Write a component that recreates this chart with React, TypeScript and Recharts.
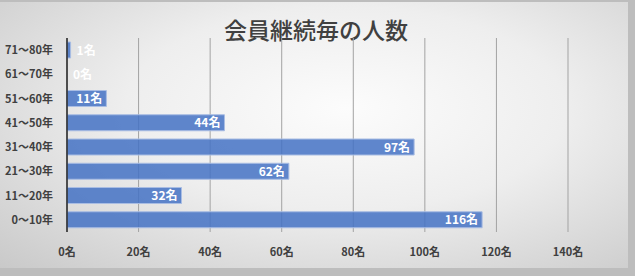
import { Bar, BarChart, CartesianGrid, LabelList, XAxis, YAxis } from "recharts";

const categories = ["71～80年", "61～70年", "51～60年", "41～50年", "31～40年", "21～30年", "11～20年", "0～10年"];
const members = [1, 0, 11, 44, 97, 62, 32, 116];
const xTicks = [0, 20, 40, 60, 80, 100, 120, 140];

// "rest" is an invisible stacked segment used to anchor the labels (also for 0)
const data = categories.map((name, i) => ({ name, value: members[i], rest: 140 - members[i] }));

const font = "'Noto Sans CJK JP', 'Noto Sans', sans-serif";

function BarLabel(props: any) {
  const { x, y, height, index } = props;
  const v = members[index];
  const text = `${v}名`;
  const textW = String(v).length * 7.5 + 13;
  const barW = v * ((568 - 67) / 140);
  const fits = barW > textW + 6;
  return (
    <text
      x={fits ? x - 4 : x + 6}
      y={y + height / 2}
      dy={4.5}
      textAnchor={fits ? "end" : "start"}
      fill="#ffffff"
      fontSize={12}
      fontWeight={700}
      fontFamily={font}
    >
      {text}
    </text>
  );
}

export default function App() {
  return (
    <div style={{ position: "absolute", left: 0, top: 0, width: 635, height: 276, background: "#bdbdbd" }}>
      <div
        style={{
          position: "absolute",
          left: 0,
          top: 2,
          width: 628,
          height: 266,
          background: "radial-gradient(ellipse at 55% 40%, #fcfcfc 0%, #eeeeee 45%, #c9c9c9 100%)",
        }}
      >
        <div
          style={{
            position: "absolute",
            top: 12,
            left: 0,
            width: 632,
            textAlign: "center",
            fontFamily: font,
            fontSize: 23,
            fontWeight: 500,
            color: "#404040",
            lineHeight: "30px",
          }}
        >
          会員継続毎の人数
        </div>
        <BarChart
          width={628}
          height={266}
          data={data}
          layout="vertical"
          barSize={16}
          margin={{ top: 36, right: 60, left: 0, bottom: 11 }}
        >
          <CartesianGrid horizontal={false} stroke="#a3a3a3" strokeWidth={1} />
          <XAxis
            type="number"
            domain={[0, 140]}
            ticks={xTicks}
            tickFormatter={(v) => `${v}名`}
            axisLine={false}
            tickLine={false}
            tick={{ fontSize: 11, fontWeight: 700, fill: "#404040", fontFamily: font }}
            tickMargin={10}
            height={25}
          />
          <YAxis
            type="category"
            dataKey="name"
            width={67}
            axisLine={{ stroke: "#262626", strokeWidth: 1.5 }}
            tickLine={false}
            tick={{ fontSize: 11, fontWeight: 700, fill: "#404040", fontFamily: font }}
            tickMargin={8}
          />
          <Bar
            dataKey="value"
            stackId="a"
            fill="#4472c4"
            fillOpacity={0.85}
            stroke="#a9bde3"
            strokeWidth={1}
            isAnimationActive={false}
          />
          <Bar dataKey="rest" stackId="a" fill="none" stroke="none" isAnimationActive={false}>
            <LabelList dataKey="rest" content={BarLabel} />
          </Bar>
        </BarChart>
      </div>
    </div>
  );
}
